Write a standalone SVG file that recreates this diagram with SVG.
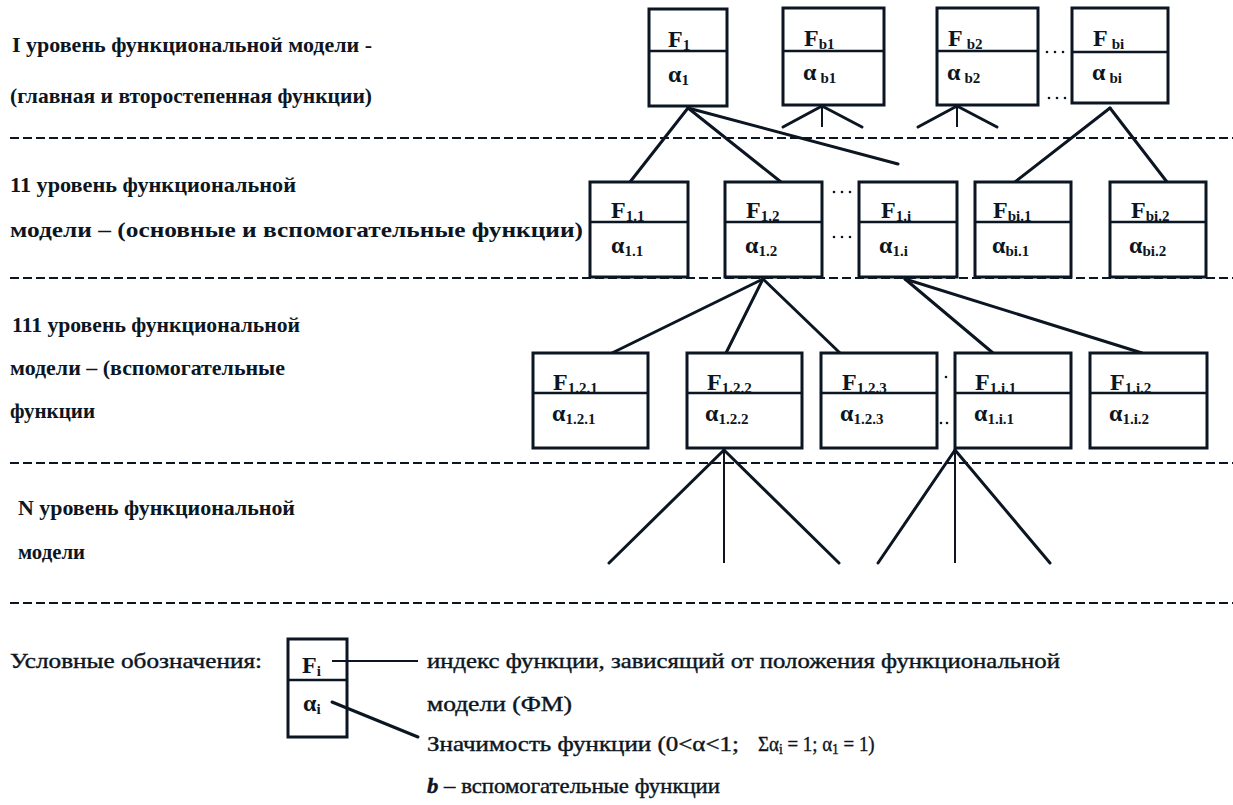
<svg xmlns="http://www.w3.org/2000/svg" width="1233" height="805" viewBox="0 0 1233 805">
<style>
text{font-family:"Liberation Serif","Times New Roman",serif;fill:#0b1622}
.lbl{font-size:22px;font-weight:bold}
.leg{font-size:21px;stroke:#0b1622;stroke-width:0.4}
.bx{font-size:24px;font-weight:bold}
.sub{font-size:15px}
.box{fill:#fff;stroke:#0b1622;stroke-width:3}
.div{stroke:#0b1622;stroke-width:2.5}
.con{stroke:#0b1622;stroke-width:3;fill:none;stroke-linecap:round}
.vert{stroke:#0b1622;stroke-width:2;fill:none}
.dash{stroke:#0b1622;stroke-width:2;stroke-dasharray:9 4}
.dot{fill:#0b1622}
</style>

<g id="separators">
<line class="dash" x1="10" y1="138" x2="1233" y2="138"/>
<line class="dash" x1="10" y1="278" x2="1233" y2="278"/>
<line class="dash" x1="10" y1="463" x2="1233" y2="463"/>
<line class="dash" x1="10" y1="603" x2="1233" y2="603"/>
</g>

<g id="level-labels">
<text class="lbl" x="12" y="52" textLength="360" lengthAdjust="spacingAndGlyphs">I  уровень функциональной модели -</text>
<text class="lbl" x="10" y="103" textLength="362" lengthAdjust="spacingAndGlyphs">(главная и второстепенная функции)</text>
<text class="lbl" x="10" y="192" textLength="286" lengthAdjust="spacingAndGlyphs">11 уровень функциональной</text>
<text class="lbl" x="10" y="237" textLength="573" lengthAdjust="spacingAndGlyphs">модели – (основные и вспомогательные функции)</text>
<text class="lbl" x="12" y="332" textLength="288" lengthAdjust="spacingAndGlyphs">111 уровень функциональной</text>
<text class="lbl" x="10" y="375" textLength="275" lengthAdjust="spacingAndGlyphs">модели – (вспомогательные</text>
<text class="lbl" x="10" y="418" textLength="85" lengthAdjust="spacingAndGlyphs">функции</text>
<text class="lbl" x="18" y="515" textLength="277" lengthAdjust="spacingAndGlyphs">N  уровень функциональной</text>
<text class="lbl" x="18" y="559" textLength="67" lengthAdjust="spacingAndGlyphs">модели</text>
</g>

<g id="connectors">
<line class="con" x1="688" y1="108" x2="630" y2="182"/>
<line class="con" x1="688" y1="108" x2="781" y2="182"/>
<line class="con" x1="688" y1="108" x2="898" y2="164"/>
<line class="con" x1="822" y1="106" x2="783" y2="127"/>
<line class="vert" x1="822" y1="106" x2="822" y2="127"/>
<line class="con" x1="822" y1="106" x2="862" y2="127"/>
<line class="con" x1="957" y1="106" x2="918" y2="127"/>
<line class="vert" x1="957" y1="106" x2="957" y2="127"/>
<line class="con" x1="957" y1="106" x2="997" y2="127"/>
<line class="con" x1="1110" y1="108" x2="1015" y2="182"/>
<line class="con" x1="1110" y1="108" x2="1167" y2="182"/>
<line class="con" x1="763" y1="279" x2="612" y2="353"/>
<line class="con" x1="763" y1="279" x2="726" y2="353"/>
<line class="con" x1="763" y1="279" x2="840" y2="353"/>
<line class="con" x1="905" y1="279" x2="993" y2="353"/>
<line class="con" x1="905" y1="279" x2="1142" y2="353"/>
<line class="con" x1="724" y1="450" x2="609" y2="563"/>
<line class="vert" x1="724" y1="450" x2="724" y2="563"/>
<line class="con" x1="724" y1="450" x2="839" y2="563"/>
<line class="con" x1="955" y1="450" x2="878" y2="563"/>
<line class="vert" x1="955" y1="450" x2="955" y2="563"/>
<line class="con" x1="955" y1="450" x2="1050" y2="563"/>
</g>

<g id="F1">
<rect class="box" x="649" y="9" width="78" height="97"/>
<line class="div" x1="649" y1="51" x2="727" y2="51"/>
<text class="bx" x="668" y="47">F<tspan class="sub" dy="3">1</tspan></text>
<text class="bx" x="668" y="82">α<tspan class="sub" dy="3">1</tspan></text>
</g>
<g id="Fb1">
<rect class="box" x="783" y="8" width="101" height="97"/>
<line class="div" x1="783" y1="51" x2="884" y2="51"/>
<text class="bx" x="804" y="46">F<tspan class="sub" dy="3">b1</tspan></text>
<text class="bx" x="803" y="80">α<tspan class="sub" dx="4" dy="3">b1</tspan></text>
</g>
<g id="Fb2">
<rect class="box" x="937" y="8" width="101" height="97"/>
<line class="div" x1="937" y1="51" x2="1038" y2="51"/>
<text class="bx" x="948" y="46">F<tspan class="sub" dx="4" dy="3">b2</tspan></text>
<text class="bx" x="947" y="80">α<tspan class="sub" dx="4" dy="3">b2</tspan></text>
</g>
<g id="Fbi">
<rect class="box" x="1072" y="8" width="96" height="95"/>
<line class="div" x1="1072" y1="52" x2="1168" y2="52"/>
<text class="bx" x="1093" y="46">F<tspan class="sub" dx="4" dy="3">bi</tspan></text>
<text class="bx" x="1092" y="80">α<tspan class="sub" dx="4" dy="3">bi</tspan></text>
</g>
<g id="dots-level1">
<circle class="dot" cx="1047" cy="52" r="1.3"/><circle class="dot" cx="1055" cy="52" r="1.3"/><circle class="dot" cx="1063" cy="52" r="1.3"/>
<circle class="dot" cx="1049" cy="98" r="1.3"/><circle class="dot" cx="1057" cy="98" r="1.3"/><circle class="dot" cx="1065" cy="98" r="1.3"/>
</g>

<g id="F1.1">
<rect class="box" x="590" y="182" width="98" height="95"/>
<line class="div" x1="590" y1="222" x2="688" y2="222"/>
<text class="bx" x="611" y="218">F<tspan class="sub" dy="3">1.1</tspan></text>
<text class="bx" x="611" y="253">α<tspan class="sub" dy="3">1.1</tspan></text>
</g>
<g id="F1.2">
<rect class="box" x="725" y="182" width="97" height="95"/>
<line class="div" x1="725" y1="222" x2="822" y2="222"/>
<text class="bx" x="746" y="218">F<tspan class="sub" dy="3">1.2</tspan></text>
<text class="bx" x="745" y="253">α<tspan class="sub" dy="3">1.2</tspan></text>
</g>
<g id="F1.i">
<rect class="box" x="859" y="182" width="98" height="95"/>
<line class="div" x1="859" y1="222" x2="957" y2="222"/>
<text class="bx" x="881" y="218">F<tspan class="sub" dy="3">1.i</tspan></text>
<text class="bx" x="879" y="253">α<tspan class="sub" dy="3">1.i</tspan></text>
</g>
<g id="Fbi.1">
<rect class="box" x="975" y="182" width="96" height="95"/>
<line class="div" x1="975" y1="222" x2="1071" y2="222"/>
<text class="bx" x="993" y="218">F<tspan class="sub" dy="3">bi.1</tspan></text>
<text class="bx" x="992" y="253">α<tspan class="sub" dy="3">bi.1</tspan></text>
</g>
<g id="Fbi.2">
<rect class="box" x="1110" y="182" width="96" height="95"/>
<line class="div" x1="1110" y1="222" x2="1206" y2="222"/>
<text class="bx" x="1131" y="218">F<tspan class="sub" dy="3">bi.2</tspan></text>
<text class="bx" x="1129" y="253">α<tspan class="sub" dy="3">bi.2</tspan></text>
</g>
<g id="dots-level2">
<circle class="dot" cx="834" cy="192" r="1.3"/><circle class="dot" cx="842" cy="192" r="1.3"/><circle class="dot" cx="850" cy="192" r="1.3"/>
<circle class="dot" cx="834" cy="237" r="1.3"/><circle class="dot" cx="842" cy="237" r="1.3"/><circle class="dot" cx="850" cy="237" r="1.3"/>
</g>

<g id="F1.2.1">
<rect class="box" x="533" y="353" width="115" height="95"/>
<line class="div" x1="533" y1="393" x2="648" y2="393"/>
<text class="bx" x="553" y="390">F<tspan class="sub" dy="3">1.2.1</tspan></text>
<text class="bx" x="552" y="421">α<tspan class="sub" dy="3">1.2.1</tspan></text>
</g>
<g id="F1.2.2">
<rect class="box" x="687" y="353" width="115" height="95"/>
<line class="div" x1="687" y1="393" x2="802" y2="393"/>
<text class="bx" x="707" y="390">F<tspan class="sub" dy="3">1.2.2</tspan></text>
<text class="bx" x="705" y="421">α<tspan class="sub" dy="3">1.2.2</tspan></text>
</g>
<g id="F1.2.3">
<rect class="box" x="821" y="353" width="116" height="95"/>
<line class="div" x1="821" y1="393" x2="937" y2="393"/>
<text class="bx" x="842" y="390">F<tspan class="sub" dy="3">1.2.3</tspan></text>
<text class="bx" x="840" y="421">α<tspan class="sub" dy="3">1.2.3</tspan></text>
</g>
<g id="F1.i.1">
<rect class="box" x="955" y="353" width="116" height="95"/>
<line class="div" x1="955" y1="393" x2="1071" y2="393"/>
<text class="bx" x="975" y="390">F<tspan class="sub" dy="3">1.i.1</tspan></text>
<text class="bx" x="974" y="421">α<tspan class="sub" dy="3">1.i.1</tspan></text>
</g>
<g id="F1.i.2">
<rect class="box" x="1090" y="353" width="117" height="95"/>
<line class="div" x1="1090" y1="393" x2="1207" y2="393"/>
<text class="bx" x="1110" y="390">F<tspan class="sub" dy="3">1.i.2</tspan></text>
<text class="bx" x="1109" y="421">α<tspan class="sub" dy="3">1.i.2</tspan></text>
</g>
<g id="dots-level3">
<circle class="dot" cx="946" cy="377" r="1.3"/>
<circle class="dot" cx="941" cy="423" r="1.3"/><circle class="dot" cx="947" cy="423" r="1.3"/>
</g>

<g id="legend">
<text class="leg" x="10" y="668" textLength="252" lengthAdjust="spacingAndGlyphs">Условные обозначения:</text>
<rect class="box" x="288" y="639" width="59" height="98"/>
<line class="div" x1="288" y1="680" x2="347" y2="680"/>
<text class="bx" x="302" y="673">F<tspan class="sub" dy="3">i</tspan></text>
<text class="bx" x="303" y="711">α<tspan class="sub" dy="3">i</tspan></text>
<line class="vert" x1="332" y1="661" x2="418" y2="661"/>
<line class="con" x1="332" y1="702" x2="418" y2="737"/>
<text class="leg" x="427" y="668" textLength="633" lengthAdjust="spacingAndGlyphs">индекс функции, зависящий от положения функциональной</text>
<text class="leg" x="427" y="711" textLength="145" lengthAdjust="spacingAndGlyphs">модели (ФМ)</text>
<text class="leg" x="427" y="751" textLength="312" lengthAdjust="spacingAndGlyphs">Значимость функции (0&lt;α&lt;1;</text>
<g transform="translate(758,751) scale(0.9,1)">
<text class="leg" x="0" y="0">Σα<tspan class="sub" dy="3">i</tspan><tspan dy="-3"> = 1; α</tspan><tspan class="sub" dy="3">1</tspan><tspan dy="-3"> = 1)</tspan></text>
</g>
<text class="leg" x="427" y="793" textLength="293" lengthAdjust="spacingAndGlyphs"><tspan font-style="italic" font-weight="bold">b</tspan> – вспомогательные функции</text>
</g>
</svg>
